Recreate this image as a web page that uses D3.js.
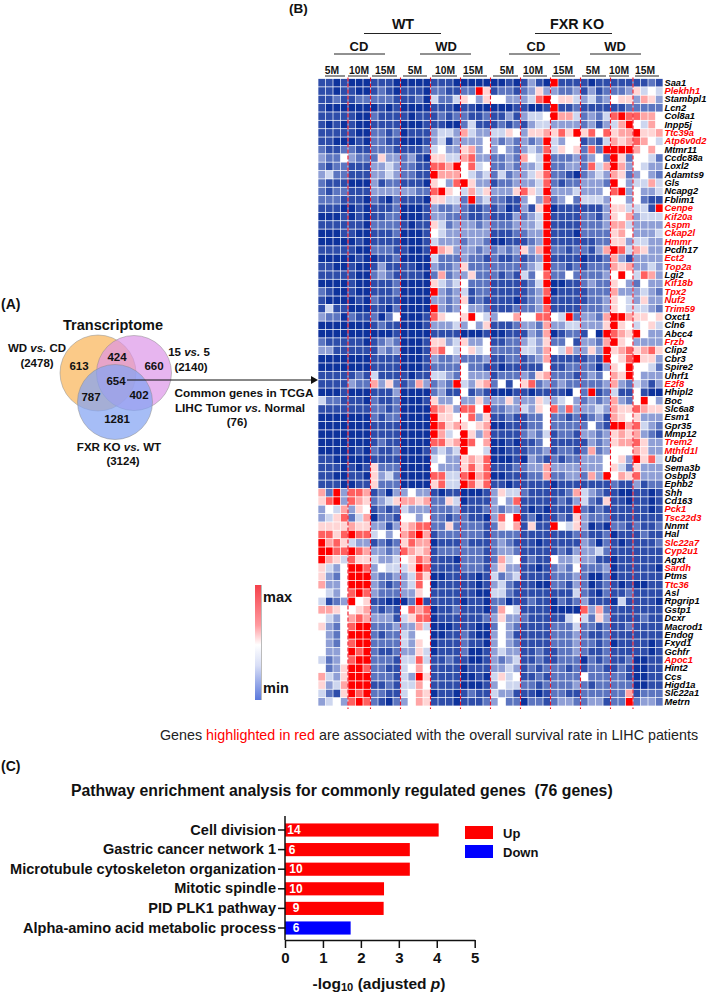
<!DOCTYPE html>
<html><head><meta charset="utf-8">
<script src="https://cdn.jsdelivr.net/npm/d3@7"></script>
<style>html,body{margin:0;padding:0;background:#fff}svg{display:block}text{font-family:"Liberation Sans",Arial,sans-serif;white-space:pre}</style>
</head><body><svg id="c" width="708" height="992"></svg>
<script>
// ---------- data ----------
const genes = ["Saa1","Plekhh1","Stambpl1","Lcn2","Col8a1","Inpp5j","Ttc39a","Atp6v0d2","Mtmr11","Ccdc88a","Loxl2","Adamts9","Gls","Ncapg2","Fblim1","Cenpe","Kif20a","Aspm","Ckap2l","Hmmr","Pcdh17","Ect2","Top2a","Lgi2","Kif18b","Tpx2","Nuf2","Trim59","Oxct1","Cln6","Abcc4","Frzb","Clip2","Cbr3","Spire2","Uhrf1","E2f8","Hhipl2","Boc","Slc6a8","Esm1","Gpr35","Mmp12","Trem2","Mthfd1l","Ubd","Sema3b","Osbpl3","Ephb2","Shh","Cd163","Pck1","Tsc22d3","Nnmt","Hal","Slc22a7","Cyp2u1","Agxt","Sardh","Ptms","Ttc36","Asl","Rpgrip1","Gstp1","Dcxr","Macrod1","Endog","Fxyd1","Gchfr","Apoc1","Hint2","Ccs","Higd1a","Slc22a1","Metrn"];
const redGenes = ["Plekhh1","Ttc39a","Atp6v0d2","Cenpe","Kif20a","Aspm","Ckap2l","Hmmr","Ect2","Top2a","Kif18b","Tpx2","Nuf2","Trim59","Frzb","E2f8","Trem2","Mthfd1l","Pck1","Tsc22d3","Slc22a7","Cyp2u1","Sardh","Ttc36","Apoc1"];
const groupSizes = [4,3,4,4,4,4,4,4,4,4,3,4];
const monthLabels = ["5M","10M","15M","5M","10M","15M","5M","10M","15M","5M","10M","15M"];
// one string per gene; digit = level 0 (lowest) to 9 (highest), spaces split the replicate groups
const heatRows = [
"1101 000 1110 0000 1110 0000 0010 1310 9111 1011 111 1121",
"1101 100 1210 1110 2211 2296 1221 2363 3223 1312 223 6454",
"1121 122 2221 1120 4224 6536 5533 3489 5664 3423 566 3763",
"1000 000 0101 0000 1110 1100 0001 1001 9112 1111 112 2222",
"1111 100 2111 1011 1212 2112 1131 3445 9774 2324 898 8775",
"1010 100 1111 0001 1100 2411 1212 1344 3333 2313 479 5475",
"1111 100 2212 0111 3443 7433 4465 3667 6869 6858 677 9667",
"1100 010 2211 0001 3413 3335 3232 3239 4355 1214 767 8754",
"2112 211 2221 1112 4533 6735 3532 3438 4656 2829 999 7575",
"3225 322 2633 2310 6644 7833 2232 7549 2223 2352 962 5542",
"2122 111 3343 2211 8879 5845 2232 3349 2233 2847 973 5433",
"3422 111 3343 2211 9777 5434 2423 3468 2210 2343 762 3532",
"2111 000 3122 1110 6538 9633 1223 3348 2122 3332 953 4474",
"2122 111 3333 3322 8965 4746 3336 8649 3334 3335 893 5334",
"2221 110 2102 1110 6644 2934 2211 3538 2352 4443 553 5211",
"1110 010 1112 0001 3223 2112 1201 3169 0111 1113 664 4419",
"0001 010 1122 0001 3322 2112 1113 2349 1111 2213 657 3444",
"1111 110 2222 1011 6423 3323 2223 3349 1111 2223 774 3333",
"0001 100 1112 0001 5433 3333 1112 2339 1110 2222 675 3334",
"0000 010 1111 0001 4333 2332 0011 1239 1111 1122 663 4433",
"1111 100 2221 1001 9763 3323 2323 6379 2212 2137 984 7633",
"0000 010 0112 0000 4222 3221 2112 1239 1111 0112 731 3333",
"1100 100 1311 1100 3223 6222 2222 2349 2212 1222 767 3343",
"1111 100 2321 1110 2723 3622 2121 4258 2252 2223 595 4873",
"0000 100 1112 0000 6434 5222 1111 1249 0011 2322 653 2533",
"2100 100 1112 0000 9323 4122 1111 1238 0111 1222 733 3432",
"1000 010 2111 0000 3323 6121 1110 1239 1111 1223 654 3633",
"1411 000 1102 0000 9323 5332 1112 2238 1111 2223 654 4432",
"3220 211 2025 0001 8655 6954 3557 5588 5492 3327 997 6656",
"0000 000 1211 0001 3334 3536 1112 3327 3344 3336 965 4564",
"0000 000 0001 0000 1111 0001 0011 1327 0122 1509 876 9533",
"2111 110 1232 0001 6634 6335 1122 3436 2251 3327 965 3333",
"3311 111 1323 0001 7854 5645 2222 4437 5473 3639 678 6786",
"0000 000 1111 0001 3223 2223 1122 1237 1111 1219 568 9663",
"0000 000 1111 0001 2222 5221 1011 1115 1122 2203 659 5542",
"1111 121 4111 1011 4432 5333 1222 3267 2221 2325 769 5333",
"1111 322 7362 1273 2329 4367 2515 6823 2322 2223 732 4313",
"0001 000 1113 0000 2311 5121 0001 1011 1105 2912 411 5100",
"4221 110 2112 0001 6335 3363 3363 3364 3453 2323 732 5953",
"1111 111 2212 0000 8763 8859 2233 4365 8383 3343 766 8766",
"0000 000 2122 0000 9665 5836 1121 1225 2212 1231 765 6333",
"0000 000 1111 0000 9867 6567 0011 1225 2222 2521 997 8432",
"0000 000 1111 0000 9745 9637 1111 2324 1221 3323 676 7321",
"0000 000 1211 0000 8867 9857 0010 1125 1111 1323 677 8633",
"0000 010 2112 0001 3434 9554 0011 1223 1221 2723 555 7633",
"1100 000 1111 0000 4533 6768 0001 0321 2122 3335 563 9684",
"1110 101 6222 0000 5333 6868 1112 2337 3333 3335 642 6333",
"1100 110 6342 0000 8844 8978 0011 1227 2233 2739 576 8333",
"1110 011 6222 0000 6844 9868 1101 1111 0111 1111 211 3122",
"7293 887 1203 3533 1011 0001 3644 2111 1127 4321 100 1101",
"6893 876 2346 7767 2264 0111 3538 1111 1213 4216 110 1101",
"3547 365 1212 4333 2223 1112 3233 1010 1119 2121 111 1101",
"3468 247 0221 5535 2212 2110 3859 1201 1216 3222 111 1111",
"6666 766 3313 6788 2262 2221 2657 1611 9546 3010 221 2112",
"8868 988 4535 7897 1222 2221 2222 1111 1112 2112 011 1211",
"9786 433 1212 6877 0111 2111 2321 1101 1111 3202 101 1112",
"9988 987 3323 8767 1222 2221 2332 1111 1213 3342 111 1111",
"9764 866 4334 5687 1110 2221 2745 1211 5334 3311 011 1111",
"6435 998 3544 4698 1111 2221 3633 1101 2325 2223 011 1110",
"6325 999 3223 3486 0011 1101 4234 1111 2223 2002 011 1111",
"7335 999 3212 3485 0111 1101 3421 1100 2213 2012 101 0011",
"5435 898 3222 3365 1111 1100 4421 1111 1114 2102 112 1111",
"4123 956 1100 0291 1111 0110 2201 1211 0212 3111 041 1110",
"7765 567 2121 5878 0112 1110 2754 1111 0000 8372 111 1111",
"5435 787 3331 4688 0111 1112 3633 2111 1145 4263 111 1211",
"6325 899 2223 3374 0001 1100 2532 1111 2224 2212 112 1111",
"5325 999 2122 4355 0011 2100 3531 1111 2223 2112 111 1111",
"5325 899 2222 4365 0111 2110 3532 1111 2223 2212 011 1101",
"5335 989 2112 3364 0111 2001 3433 1121 1223 2112 111 1101",
"4235 899 2221 4484 1121 1001 3234 1121 1222 0212 112 0011",
"5236 998 2211 4575 1111 0111 3343 1212 2212 1221 121 0011",
"7436 999 2221 4396 1111 0010 4645 1121 2222 5222 221 0011",
"6347 999 1121 4475 1111 0001 3544 2212 2223 2122 222 0011",
"4216 989 2211 4576 0110 1211 4331 1101 2211 2222 227 1222",
"3453 898 2102 3576 1110 1112 3522 0221 2332 2331 229 2332"
];
const pathways = ["Cell division","Gastric cancer network 1","Microtubule cytoskeleton organization","Mitotic spindle","PID PLK1 pathway","Alpha-amino acid metabolic process"];
const enrichment = [4.05,3.29,3.29,2.61,2.60,1.73];
const geneCounts = [14,6,10,10,9,6];
const direction = ["Up","Up","Up","Up","Up","Down"];
const xTicks = [0,1,2,3,4,5];
const vennCounts = ["613","424","660","654","787","402","1281"];

// ---------- helpers ----------
const svg = d3.select("#c");
const FF = '"Liberation Sans",Arial,sans-serif';
function txt(parent,x,y,parts,opts={}){
  const t = parent.append("text").attr("x",x).attr("y",y).attr("dominant-baseline","central")
    .attr("text-anchor",opts.anchor||"middle").attr("font-size",opts.size||11)
    .attr("font-weight",opts.weight||"bold").attr("fill",opts.fill||"#111");
  (Array.isArray(parts)?parts:[[parts]]).forEach(p=>{
    const s=t.append("tspan").text(p[0]);
    if(p[1]==="i") s.attr("font-style","italic");
    if(p[1]&&p[1]!=="i"&&p[1]!=="sub") s.attr("fill",p[1]);
    if(p[1]==="sub") s.attr("font-size",(opts.size||11)*0.72).attr("dy",4);
    if(p[2]) s.attr("dy",p[2]);
  });
  return t;
}
svg.append("rect").attr("width",708).attr("height",992).attr("fill","#fff");
const defs=svg.append("defs");
defs.append("filter").attr("id","soft").attr("x","-2%").attr("y","-2%").attr("width","104%").attr("height","104%")
 .append("feGaussianBlur").attr("stdDeviation",.3);

// ---------- panel labels ----------
txt(svg,1,304,"(A)",{anchor:"start",size:14});
txt(svg,289,8,"(B)",{anchor:"start",size:13.5});
txt(svg,1,766,"(C)",{anchor:"start",size:14});

// ---------- Venn ----------
const venn = svg.append("g");
const vennCircles = [
 {cx:98,cy:373,r:38,fill:"#fbca88",op:1},
 {cx:134,cy:373,r:37.5,fill:"#dc92e8",op:.68},
 {cx:115,cy:402,r:37.5,fill:"#83a4f3",op:.72}];
venn.selectAll("circle").data(vennCircles).join("circle")
 .attr("cx",d=>d.cx).attr("cy",d=>d.cy).attr("r",d=>d.r).attr("fill",d=>d.fill)
 .attr("fill-opacity",d=>d.op).attr("stroke","#8a8a8a").attr("stroke-width",.5);
txt(svg,113,325,"Transcriptome",{size:14.5});
txt(svg,37,348,[["WD "],["vs.","i"],[" CD"]],{size:11.5});
txt(svg,37,363,"(2478)",{size:11.5});
txt(svg,189,352,[["15 "],["vs.","i"],[" 5"]],{size:11.5});
txt(svg,191,367,"(2140)",{size:11.5});
const vennPos=[[79,366],[117,357],[154,366],[116,381],[91,397],[139,395],[117,419]];
vennCounts.forEach((c,i)=>txt(svg,vennPos[i][0],vennPos[i][1],c,{size:11.5}));
txt(svg,119,446,[["FXR KO "],["vs.","i"],[" WT"]],{size:11.6});
txt(svg,123,461,"(3124)",{size:11.5});
txt(svg,244,393,"Common genes in TCGA",{size:11.8});
txt(svg,240,408,[["LIHC Tumor "],["vs.","i"],[" Normal"]],{size:11.8});
txt(svg,237,422,"(76)",{size:11.5});
svg.append("line").attr("x1",127).attr("y1",380).attr("x2",312).attr("y2",380).attr("stroke","#111").attr("stroke-width",1);
svg.append("path").attr("d","M311,376 L318,380 L311,384 Z").attr("fill","#111");

// ---------- Heatmap ----------
const nCols = d3.sum(groupSizes);
const colIdx = d3.range(nCols);
const hm = {x0:318,x1:663,y0:78.5,y1:706};
const xH = d3.scaleBand().domain(colIdx).range([hm.x0,hm.x1]).paddingInner(.09).paddingOuter(.045);
const yH = d3.scaleBand().domain(genes).range([hm.y0,hm.y1]).paddingInner(.09).paddingOuter(.045);
const color = d3.scaleLinear().domain([0,1,2,3,4,5,6,7,8,9]).range(["#10309c","#2f4eaa","#5c75c0","#8f9fd6","#cdd6ef","#ffffff","#ffd5d5","#ffa5a5","#ff6060","#ff0000"]);
const cells = heatRows.flatMap((row,r)=>row.replace(/ /g,"").split("").map((v,c)=>({gene:genes[r],col:c,v:+v})));
svg.append("g").attr("filter","url(#soft)").selectAll("rect").data(cells).join("rect")
 .attr("x",d=>xH(d.col)).attr("y",d=>yH(d.gene)).attr("width",xH.bandwidth()).attr("height",yH.bandwidth())
 .attr("fill",d=>color(d.v));
// group separators
const boundaries = d3.cumsum(groupSizes).slice(0,-1);
svg.append("g").selectAll("line").data(boundaries).join("line")
 .attr("x1",b=>xH(b)-.35).attr("x2",b=>xH(b)-.35).attr("y1",hm.y0-1).attr("y2",hm.y1+3)
 .attr("stroke","#f01020").attr("stroke-width",1.1).attr("stroke-dasharray","4 2");
// gene labels
svg.append("g").selectAll("text").data(genes).join("text")
 .attr("x",664.5).attr("y",d=>yH(d)+yH.bandwidth()/2).attr("dominant-baseline","central")
 .attr("font-size",9.3).attr("font-weight","bold").attr("font-style","italic")
 .attr("fill",d=>redGenes.includes(d)?"#ff0000":"#000").text(d=>d);
// header
const monthCx=[332,359,385,415,445,473,507,533,563,593,619,645];
const monthLine=[[325,345],[348,368],[372,397],[403,427],[432,457],[463,487],[493,518],[523,547],[552,575],[582,606],[609,629],[635,659]];
monthLabels.forEach((m,i)=>{
  txt(svg,monthCx[i],70,m,{size:10.3});
  svg.append("line").attr("x1",monthLine[i][0]).attr("x2",monthLine[i][1]).attr("y1",76).attr("y2",76).attr("stroke","#222").attr("stroke-width",1);
});
[["CD",359,334,385],["WD",446,420,471],["CD",536,509,560],["WD",615,590,641]].forEach(d=>{
  txt(svg,d[1],46,d[0],{size:13});
  svg.append("line").attr("x1",d[2]).attr("x2",d[3]).attr("y1",54).attr("y2",54).attr("stroke","#222").attr("stroke-width",1);
});
[["WT",403,364,441],["FXR KO",577,535,612]].forEach(d=>{
  txt(svg,d[1],24,d[0],{size:14.3});
  svg.append("line").attr("x1",d[2]).attr("x2",d[3]).attr("y1",33.5).attr("y2",33.5).attr("stroke","#222").attr("stroke-width",1);
});
// colour bar
const lg=defs.append("linearGradient").attr("id","cb").attr("x1",0).attr("x2",0).attr("y1",0).attr("y2",1);
[[0,"#f5414b"],[.35,"#ff9a9f"],[.52,"#ffffff"],[.7,"#d8def6"],[1,"#5a78dc"]].forEach(s=>lg.append("stop").attr("offset",s[0]).attr("stop-color",s[1]));
svg.append("rect").attr("x",255).attr("y",585).attr("width",6).attr("height",115).attr("fill","url(#cb)");
svg.append("rect").attr("x",261).attr("y",585).attr("width",1).attr("height",115).attr("fill","#bbb");
txt(svg,263,597,"max",{anchor:"start",size:14.5});
txt(svg,263,688,"min",{anchor:"start",size:14.5});

// footer
txt(svg,160,735,[["Genes "],["highlighted in red","#ff0000"],[" are associated with the overall survival rate in LIHC patients"]],{anchor:"start",size:14.3,weight:"normal",fill:"#222"});

// ---------- Bar chart ----------
txt(svg,71,790,"Pathway enrichment analysis for commonly regulated genes  (76 genes)",{anchor:"start",size:15.8});
const xB = d3.scaleLinear().domain([0,5]).range([285,474.7]);
const yB = d3.scaleBand().domain(pathways).range([820.2,937.8]).paddingInner(.33).paddingOuter(.165);
const dirColor = d3.scaleOrdinal().domain(["Up","Down"]).range(["#ff0000","#0000ff"]);
const bars = pathways.map((p,i)=>({p,v:enrichment[i],n:geneCounts[i],d:direction[i],i}));
svg.append("g").selectAll("rect").data(bars).join("rect")
 .attr("x",xB(0)).attr("y",d=>yB(d.p)).attr("width",d=>xB(d.v)-xB(0)).attr("height",yB.bandwidth()).attr("fill",d=>dirColor(d.d));
const countX=[9,7,11,11,11,11]; // offset of the count text from the axis
bars.forEach(d=>txt(svg,xB(0)+countX[d.i],yB(d.p)+yB.bandwidth()/2,String(d.n),{size:12,fill:"#fff"}));
const axB = svg.append("g").attr("transform","translate(0,940)").call(d3.axisBottom(xB).tickValues(xTicks).tickFormat(d3.format("d")).tickSize(8).tickPadding(4).tickSizeOuter(0));
axB.selectAll("text").attr("font-size",15).attr("font-weight","bold").attr("fill","#111").attr("font-family",FF);
axB.selectAll("line,path").attr("stroke","#111").attr("stroke-width",1.5);
const ayB = svg.append("g").attr("transform","translate(285,0)").call(d3.axisLeft(yB).tickSize(7).tickPadding(2).tickSizeOuter(0));
ayB.select("path").attr("d","M0,816V940");
ayB.selectAll("text").attr("font-size",14.55).attr("font-weight","bold").attr("fill","#111").attr("font-family",FF);
ayB.selectAll("line,path").attr("stroke","#111").attr("stroke-width",1.5);
txt(svg,379,983,[["-log"],["10","sub"],[" (adjusted ",null,-4],["p","i"],[")"]],{size:15.5});
// legend
["Up","Down"].forEach((k,i)=>{
  svg.append("rect").attr("x",465).attr("y",826+i*19).attr("width",28).attr("height",13).attr("fill",dirColor(k));
  txt(svg,503,833+i*19,k,{anchor:"start",size:13});
});
</script></body></html>
